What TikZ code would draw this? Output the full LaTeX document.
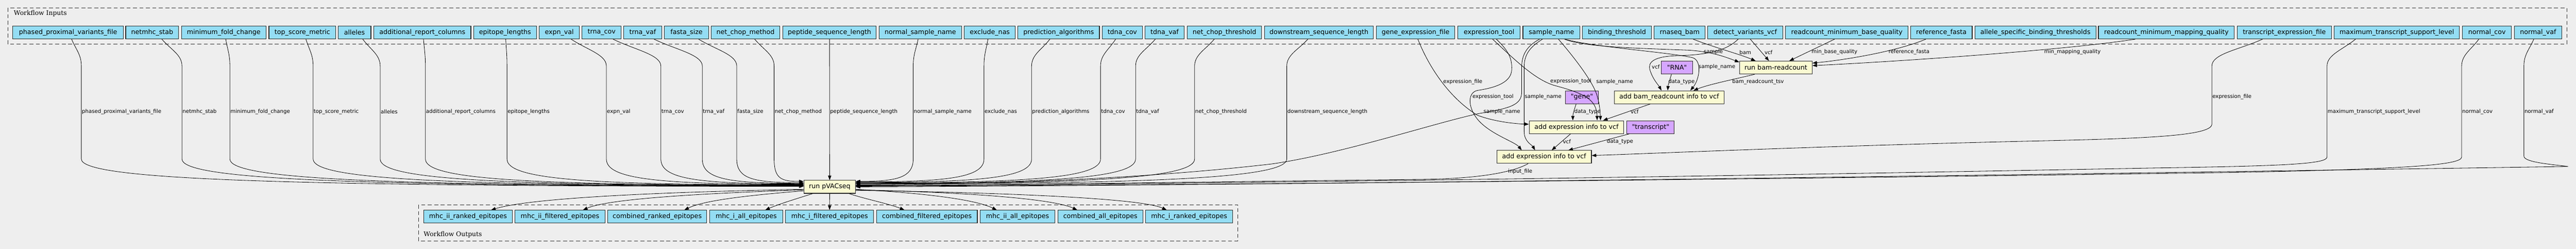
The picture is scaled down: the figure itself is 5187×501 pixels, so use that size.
\documentclass[tikz,border=0pt]{standalone}
\usepackage{fontspec}
\usetikzlibrary{arrows.meta}
\newfontfamily\dvsans{DejaVu Sans}
\newfontfamily\dvserif{DejaVu Serif}
\newcommand\nfont{\dvsans\fontsize{13.1pt}{15pt}\selectfont}
\newcommand\lfont{\dvsans\fontsize{10.6pt}{12pt}\selectfont}
\newcommand\gfont{\dvserif\fontsize{12.8pt}{15pt}\selectfont}
\definecolor{bgc}{HTML}{EEEEEE}
\definecolor{inblue}{HTML}{94DDF4}
\definecolor{stepyel}{HTML}{FAFAD2}
\definecolor{constpur}{HTML}{D5A6FF}
\definecolor{bord}{HTML}{2A2A2A}
\tikzset{
  boxbase/.style={draw=bord, line width=1.1pt, inner sep=0pt, minimum height=26pt, font=\nfont},
  inp/.style={boxbase, fill=inblue},
  stp/.style={boxbase, fill=stepyel},
  cst/.style={boxbase, fill=constpur},
  grp/.style={draw=bord, line width=1.1pt, dash pattern=on 8pt off 5pt},
  glab/.style={font=\gfont, inner sep=0pt, anchor=west},
  conn/.style={draw=black, line width=0.85pt, -{Triangle[length=9pt,width=6.5pt]}},
  elab/.style={font=\lfont, inner sep=0pt, anchor=west},
  clab/.style={font=\lfont, inner sep=0pt},
}
% left-side input of run pVACseq: node, start x, vertical x, label, target y
\newcommand\pvL[5]{%
  \draw[conn] (#1.south -| #2,0) .. controls ({#2+0.45*(#3-#2)},100) and (#3,110) .. (#3,133)
     -- (#3,320) .. controls (#3,360) and ({#3+0.25*(1618.6-#3)},#5) .. (pv.west |- 0,#5);
  \node[elab] (lab#1) at ({#3+1},225) {#4};
}
% right-side input of run pVACseq: node, start x, vertical x, label, target y, end of vertical
\newcommand\pvR[6]{%
  \draw[conn] (#1.south -| #2,0) .. controls ({#2+0.45*(#3-#2)},100) and (#3,110) .. (#3,133)
     -- (#3,#6) .. controls (#3,{#6+38}) and ({#3-0.3*(#3-1722.6)},#5) .. (pv.east |- 0,#5);
  \node[elab] (lab#1) at ({#3+1},225) {#4};
}
\begin{document}
\begin{tikzpicture}[x=1pt,y=-1pt]
\useasboundingbox[fill=bgc] (0,0) rectangle (5187,501);
% groups
\draw[grp] (15.6,15.7) rectangle (5168.4,89);
\node[glab] (inlab) at (27.7,27.3) {Workflow Inputs};
\draw[grp] (842.5,412) rectangle (2492.7,484.7);
\node[glab] (outlab) at (853,472) {Workflow Outputs};
% inputs
\node[inp, minimum width=222.3pt] (phased) at (137.05,65.3) {phased\_proximal\_variants\_file};
\node[inp, minimum width=106.7pt] (netmhc) at (306.45,65.3) {netmhc\_stab};
\node[inp, minimum width=170.5pt] (minfold) at (450.45,65.3) {minimum\_fold\_change};
\node[inp, minimum width=134.8pt] (topscore) at (608.9,65.3) {top\_score\_metric};
\node[inp, minimum width=66.1pt] (alleles) at (713.85,65.3) {alleles};
\node[inp, minimum width=195.5pt] (addcols) at (850.45,65.3) {additional\_report\_columns};
\node[inp, minimum width=126.8pt] (eplen) at (1017,65.3) {epitope\_lengths};
\node[inp, minimum width=81.7pt] (expnval) at (1126.15,65.3) {expn\_val};
\node[inp, minimum width=79pt] (trnacov) at (1211.4,65.3) {trna\_cov};
\node[inp, minimum width=76.8pt] (trnavaf) at (1294.2,65.3) {trna\_vaf};
\node[inp, minimum width=88.9pt] (fastasize) at (1382.35,65.3) {fasta\_size};
\node[inp, minimum width=138.8pt] (netchopm) at (1501.1,65.3) {net\_chop\_method};
\node[inp, minimum width=188pt] (peplen) at (1670.3,65.3) {peptide\_sequence\_length};
\node[inp, minimum width=166.1pt] (normname) at (1853.15,65.3) {normal\_sample\_name};
\node[inp, minimum width=103.1pt] (exclnas) at (1993.05,65.3) {exclude\_nas};
\node[inp, minimum width=164.2pt] (predalg) at (2131.7,65.3) {prediction\_algorithms};
\node[inp, minimum width=81.2pt] (tdnacov) at (2259.8,65.3) {tdna\_cov};
\node[inp, minimum width=78.6pt] (tdnavaf) at (2345.1,65.3) {tdna\_vaf};
\node[inp, minimum width=149.6pt] (netchopt) at (2465.4,65.3) {net\_chop\_threshold};
\node[inp, minimum width=219.6pt] (downlen) at (2655.8,65.3) {downstream\_sequence\_length};
\node[inp, minimum width=158.5pt] (geneexp) at (2850.25,65.3) {gene\_expression\_file};
\node[inp, minimum width=125.9pt] (exptool) at (2998.25,65.3) {expression\_tool};
\node[inp, minimum width=114.8pt] (sample) at (3123.9,65.3) {sample\_name};
\node[inp, minimum width=138.4pt] (bindthr) at (3255.8,65.3) {binding\_threshold};
\node[inp, minimum width=102.7pt] (rnabam) at (3382.15,65.3) {rnaseq\_bam};
\node[inp, minimum width=150.6pt] (detvcf) at (3514.1,65.3) {detect\_variants\_vcf};
\node[inp, minimum width=246.7pt] (rminbq) at (3718.75,65.3) {readcount\_minimum\_base\_quality};
\node[inp, minimum width=124.2pt] (reffa) at (3909,65.3) {reference\_fasta};
\node[inp, minimum width=243.9pt] (asbt) at (4098.45,65.3) {allele\_specific\_binding\_thresholds};
\node[inp, minimum width=273.8pt] (rminmq) at (4362.2,65.3) {readcount\_minimum\_mapping\_quality};
\node[inp, minimum width=189.5pt] (txexp) at (4599.55,65.3) {transcript\_expression\_file};
\node[inp, minimum width=252.3pt] (maxtsl) at (4826.15,65.3) {maximum\_transcript\_support\_level};
\node[inp, minimum width=98.4pt] (normcov) at (5007.7,65.3) {normal\_cov};
\node[inp, minimum width=95.1pt] (normvaf) at (5110.65,65.3) {normal\_vaf};
% steps and constants
\node[cst, minimum width=62.5pt] (rna) at (3376.75,135.7) {"RNA"};
\node[stp, minimum width=146.3pt] (brc) at (3575.85,136) {run bam-readcount};
\node[stp, minimum width=221pt] (abr) at (3360.9,195.7) {add bam\_readcount info to vcf};
\node[cst, minimum width=67pt] (gene) at (3185.3,195.7) {"gene"};
\node[stp, minimum width=190.6pt] (ae1) at (3174.3,255.8) {add expression info to vcf};
\node[cst, minimum width=95.5pt] (tx) at (3323.65,255.8) {"transcript"};
\node[stp, minimum width=190.7pt] (ae2) at (3109.15,315.8) {add expression info to vcf};
\node[stp, minimum width=104pt] (pv) at (1670.6,376) {run pVACseq};
% outputs
\node[inp, minimum width=178pt] (o1) at (942.3,436) {mhc\_ii\_ranked\_epitopes};
\node[inp, minimum width=181.1pt] (o2) at (1127.55,436) {mhc\_ii\_filtered\_epitopes};
\node[inp, minimum width=198.9pt] (o3) at (1323.35,436) {combined\_ranked\_epitopes};
\node[inp, minimum width=146.7pt] (o4) at (1502.55,436) {mhc\_i\_all\_epitopes};
\node[inp, minimum width=177.7pt] (o5) at (1670.45,436) {mhc\_i\_filtered\_epitopes};
\node[inp, minimum width=202.9pt] (o6) at (1866.45,436) {combined\_filtered\_epitopes};
\node[inp, minimum width=150.5pt] (o7) at (2048.85,436) {mhc\_ii\_all\_epitopes};
\node[inp, minimum width=171.6pt] (o8) at (2215.6,436) {combined\_all\_epitopes};
\node[inp, minimum width=174.8pt] (o9) at (2394.5,436) {mhc\_i\_ranked\_epitopes};
% inputs of run pVACseq, left side
\pvL{phased}{144.2}{163.8}{phased\_proximal\_variants\_file}{375}
\pvL{netmhc}{325.9}{366.4}{netmhc\_stab}{374.5}
\pvL{minfold}{454.5}{462.9}{minimum\_fold\_change}{374}
\pvL{topscore}{616}{630.5}{top\_score\_metric}{373.5}
\pvL{alleles}{730.4}{765.5}{alleles}{373}
\pvL{addcols}{852.7}{856.6}{additional\_report\_columns}{372.5}
\pvL{eplen}{1018.3}{1020.9}{epitope\_lengths}{372}
\pvL{expnval}{1150}{1221}{expn\_val}{371}
\pvL{trnacov}{1234.4}{1330.7}{trna\_cov}{370}
\pvL{trnavaf}{1317}{1414.2}{trna\_vaf}{369}
\pvL{fastasize}{1406.7}{1483.5}{fasta\_size}{367.5}
\pvL{netchopm}{1519.6}{1558.8}{net\_chop\_method}{365}
\draw[conn] (peplen.south) -- (pv.north);
\node[elab] (labpeplen) at (1671.3,225) {peptide\_sequence\_length};
% inputs of run pVACseq, right side
\pvR{normname}{1848.7}{1838.8}{normal\_sample\_name}{365}{320}
\pvR{exclnas}{1989.3}{1981.3}{exclude\_nas}{366}{320}
\pvR{predalg}{2114}{2077.2}{prediction\_algorithms}{367}{320}
\pvR{tdnacov}{2246.4}{2216}{tdna\_cov}{368}{320}
\pvR{tdnavaf}{2326.3}{2286.6}{tdna\_vaf}{369}{320}
\pvR{netchopt}{2445}{2405.4}{net\_chop\_threshold}{369.5}{320}
\pvR{downlen}{2633.5}{2591}{downstream\_sequence\_length}{370}{320}
\draw[conn] (sample.south -| 3100,0) .. controls (3075,92) and (3064,110) .. (3064,135) -- (3064,185)
   .. controls (3064,212) and (3040,218) .. (2975,229) .. controls (2880,250) and (2700,310) .. (2560,330)
   .. controls (2300,360) and (2000,371) .. (pv.east |- 0,372);
\node[elab] (lsnpv) at (2987,225) {sample\_name};
\draw[conn] (ae2.south -| 3077,0) .. controls (3040,350) and (2960,360) .. (2860,361)
   .. controls (2400,366) and (2000,373) .. (pv.east |- 0,373);
\node[clab] (lif) at (3061,345) {input\_file};
\draw[conn] (maxtsl.south -| 4743,0) .. controls (4717,100) and (4685.6,110) .. (4685.6,133) -- (4685.6,316)
   .. controls (4685.6,330) and (4600,334) .. (4340,338) .. controls (3600,352) and (2600,369) .. (pv.east |- 0,374);
\node[elab] (lmaxtsl) at (4686.6,225) {maximum\_transcript\_support\_level};
\draw[conn] (normcov.south -| 4991.3,0) .. controls (4975.8,100) and (4956.7,110) .. (4956.7,133) -- (4956.7,316)
   .. controls (4956.7,332) and (4850,340) .. (4500,347) .. controls (3600,360) and (2600,371) .. (pv.east |- 0,375);
\node[elab] (lnormcov) at (4957.7,225) {normal\_cov};
\draw[conn] (normvaf.south -| 5102,0) .. controls (5092.6,100) and (5082,110) .. (5082,133) -- (5082,314)
   .. controls (5082,326) and (5130,330) .. (5171,335) .. controls (4200,350) and (2700,372) .. (pv.east |- 0,376);
\node[elab] (lnormvaf) at (5083,225) {normal\_vaf};
% outputs of run pVACseq
\draw[conn] (pv.west |- 0,381) .. controls (1400,385) and (1080,395) .. (o1.north -| 989,0);
\draw[conn] (pv.west |- 0,382) .. controls (1450,388) and (1230,398) .. (o2.north -| 1174,0);
\draw[conn] (pv.west |- 0,384) .. controls (1520,392) and (1420,402) .. (o3.north -| 1378,0);
\draw[conn] (pv.south -| 1636.5,0) .. controls (1610,398) and (1570,410) .. (o4.north -| 1541,0);
\draw[conn] (pv.south) -- (o5.north);
\draw[conn] (pv.south -| 1709.6,0) .. controls (1740,400) and (1790,410) .. (o6.north -| 1821,0);
\draw[conn] (pv.east |- 0,381) .. controls (1850,388) and (1960,400) .. (o7.north -| 2007,0);
\draw[conn] (pv.east |- 0,382) .. controls (1950,387) and (2120,400) .. (o8.north -| 2169,0);
\draw[conn] (pv.east |- 0,383) .. controls (2050,388) and (2300,400) .. (o9.north -| 2349,0);
% run bam-readcount
\draw[conn] (rnabam.south -| 3409.4,0) .. controls (3450,95) and (3500,108) .. (brc.north -| 3535,0);
\node[clab] (lbam) at (3514.5,105) {bam};
\draw[conn] (detvcf.south -| 3524.4,0) -- (brc.north -| 3562,0);
\node[clab] (lvcf1) at (3561,105) {vcf};
\draw[conn] (rminbq.south -| 3694,0) -- (brc.north -| 3603,0);
\node[clab] (lmbq) at (3694,105) {min\_base\_quality};
\draw[conn] (reffa.south -| 3877.8,0) .. controls (3820,103) and (3720,120) .. (brc.east |- 0,127);
\node[clab] (lrf) at (3844,105) {reference\_fasta};
\draw[conn] (rminmq.south -| 4299.6,0) .. controls (4150,102) and (3800,125) .. (brc.east |- 0,132);
\node[clab] (lmmq) at (4173,105) {min\_mapping\_quality};
\draw[conn] (sample.south -| 3150.4,0) .. controls (3190,95) and (3300,97) .. (3400,101)
   .. controls (3450,104) and (3480,117) .. (brc.west |- 0,125);
\node[clab] (lsmp) at (3450,104) {sample};
% add bam_readcount info to vcf
\draw[conn] (sample.south -| 3150.4,0) .. controls (3210,95) and (3360,105) .. (3408,116)
   .. controls (3428,122) and (3422,160) .. (abr.north -| 3403.6,0);
\node[elab] (lsn1) at (3420,135) {sample\_name};
\draw[conn] (detvcf.south -| 3500,0) .. controls (3480,98) and (3450,110) .. (3380,112)
   .. controls (3330,113) and (3318,125) .. (3322,140) .. controls (3328,160) and (3340,172) .. (abr.north -| 3345.5,0);
\node[clab] (lvcf2) at (3334,135) {vcf};
\draw[conn] (rna.south -| 3365.6,0) .. controls (3362,162) and (3359,170) .. (abr.north -| 3358,0);
\node[clab] (ldt1) at (3386,165) {data\_type};
\draw[conn] (brc.south -| 3533,0) .. controls (3490,160) and (3440,170) .. (abr.north -| 3410,0);
\node[clab] (lbrt) at (3540,165) {bam\_readcount\_tsv};
% add expression info (gene)
\draw[conn] (geneexp.south -| 2855,0) .. controls (2875,130) and (2915,195) .. (2975,232)
   .. controls (3010,245) and (3050,249) .. (ae1.west |- 0,250);
\node[elab] (lef1) at (2906,165) {expression\_file};
\draw[conn] (exptool.south -| 3005.4,0) .. controls (3050,120) and (3090,160) .. (3130,172)
   .. controls (3190,188) and (3215,200) .. (ae1.north -| 3216,0);
\node[clab] (let1) at (3163,164) {expression\_tool};
\draw[conn] (sample.south -| 3138,0) .. controls (3165,110) and (3205,160) .. (3215,190)
   .. controls (3221,208) and (3222,225) .. (ae1.north -| 3222.8,0);
\node[elab] (lsn2) at (3214,165) {sample\_name};
\draw[conn] (gene.south -| 3173.7,0) .. controls (3170,220) and (3167,230) .. (ae1.north -| 3167,0);
\node[elab] (ldt2) at (3170,225) {data\_type};
\draw[conn] (abr.south -| 3323,0) -- (ae1.north -| 3228,0);
\node[clab] (lvcf3) at (3291.5,225) {vcf};
% add expression info (transcript)
\draw[conn] (exptool.south -| 3013,0) .. controls (3035,100) and (3045,115) .. (3044,140)
   .. controls (3043,170) and (3000,178) .. (2975,182) .. controls (2955,186) and (2955,215) .. (2975,240)
   .. controls (3000,270) and (3050,285) .. (ae2.north -| 3064,0);
\node[elab] (let2) at (2964.7,195) {expression\_tool};
\draw[conn] (sample.south -| 3105.8,0) .. controls (3080,95) and (3069,110) .. (3069,135) -- (3069,265)
   .. controls (3069,285) and (3085,292) .. (ae2.north -| 3091,0);
\node[elab] (lsn3) at (3070,195) {sample\_name};
\draw[conn] (ae1.south -| 3162.5,0) -- (ae2.north -| 3124.5,0);
\node[clab] (lvcf4) at (3155,285) {vcf};
\draw[conn] (tx.south -| 3280.8,0) -- (ae2.north -| 3158,0);
\node[clab] (ldt3) at (3262,285) {data\_type};
\draw[conn] (txexp.south -| 4555.7,0) .. controls (4509,100) and (4453.7,108) .. (4453.7,133) -- (4453.7,250)
   .. controls (4453.7,275) and (4300,279) .. (4087,284) .. controls (3700,293) and (3400,306) .. (ae2.east |- 0,313);
\node[elab] (lef2) at (4454.7,195) {expression\_file};
\end{tikzpicture}
\end{document}
